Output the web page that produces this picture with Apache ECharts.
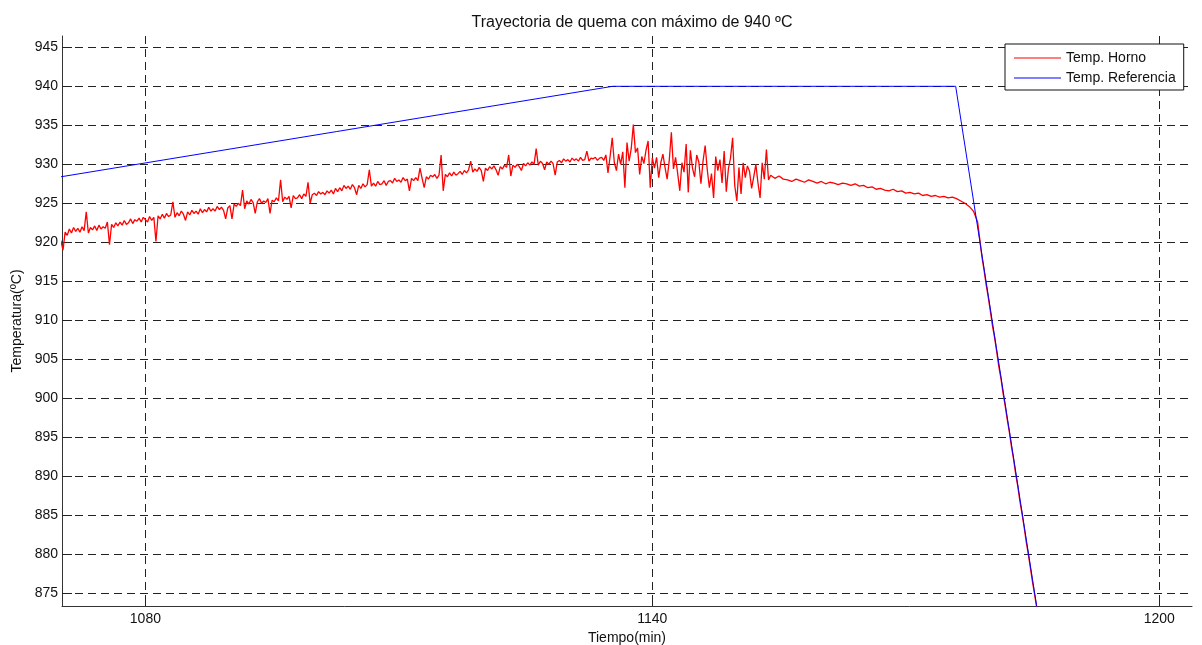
<!DOCTYPE html>
<html>
<head>
<meta charset="utf-8">
<title>Trayectoria de quema</title>
<script src="https://cdn.jsdelivr.net/npm/echarts@6/dist/echarts.min.js"></script>
<style>
  html, body { margin: 0; padding: 0; background: #fff; }
  #chart { width: 1202px; height: 645px; }
</style>
</head>
<body>
<div id="chart"></div>
<script>
// Tick values shown on each axis
const xTicks = [1080, 1140, 1200];
const yTicks = [875, 880, 885, 890, 895, 900, 905, 910, 915, 920, 925, 930, 935, 940, 945];

// Reference trajectory (min, ºC)
const refTime = [1070, 1135.3, 1175.9, 1186.2];
const refTemp = [928.4, 940, 940, 868.4];

// Furnace temperature, sampled every 0.25 min from 1070 to 1153.75
const hornoAStart = 1070, hornoAStep = 0.25;
const hornoA = [
  920.2, 919.0, 921.3, 920.9,
  921.7, 921.2, 921.9, 921.4,
  921.8, 921.3, 922.0, 921.5,
  923.9, 921.2, 921.9, 921.6,
  922.1, 921.5, 922.2, 921.7,
  922.0, 921.8, 922.6, 919.7,
  922.3, 921.9, 922.5, 922.1,
  922.6, 922.2, 922.8, 922.3,
  922.5, 923.0, 922.4, 922.9,
  922.7, 923.1, 922.6, 923.2,
  922.9, 922.6, 923.3, 922.8,
  923.2, 920.1, 923.4, 923.0,
  923.6, 923.1, 923.7, 923.3,
  923.5, 925.2, 923.2, 923.8,
  923.4, 924.0, 923.6, 922.8,
  923.9, 923.5, 924.1, 923.7,
  924.0, 923.6, 924.3, 923.8,
  924.2, 923.9, 924.5, 924.0,
  924.3, 924.0, 924.6, 924.2,
  924.5, 924.1, 923.0, 924.4,
  924.7, 923.0, 924.9, 924.6,
  925.0, 924.7, 926.7, 924.3,
  925.3, 924.9, 925.5, 925.1,
  923.7, 925.2, 925.6, 925.0,
  925.3, 925.1, 925.6, 923.7,
  925.4, 925.2, 925.7, 925.3,
  928.0, 925.2, 925.8, 925.5,
  925.9, 924.4, 926.0, 925.6,
  925.7, 926.1, 925.6, 926.2,
  925.9, 927.7, 925.0, 926.1,
  926.3, 926.0, 926.5, 926.2,
  926.4, 926.1, 926.6, 926.3,
  926.7, 926.2, 926.9, 926.5,
  927.0, 926.6, 927.3, 926.9,
  927.2, 926.8, 927.4, 927.0,
  926.1, 927.3, 926.9, 927.5,
  927.1, 927.4, 929.3, 927.2,
  927.6, 927.2, 927.8, 927.4,
  927.5, 927.9, 927.3, 927.8,
  927.9, 927.6, 928.2, 927.8,
  928.0, 927.7, 928.3, 927.9,
  928.1, 926.6, 928.2, 927.9,
  928.3, 927.9, 929.5, 928.2,
  927.0, 928.4, 928.1, 928.6,
  928.4, 928.7, 928.2, 928.6,
  931.2, 926.6, 928.7, 928.4,
  928.9, 928.5, 929.0, 928.6,
  928.8, 929.1, 928.7, 929.2,
  928.9, 929.3, 930.4, 929.0,
  929.4, 929.1, 929.6, 929.2,
  927.8, 929.5, 929.2, 929.7,
  929.4, 929.8, 929.3, 928.6,
  929.7, 929.4, 929.9, 929.6,
  931.2, 928.5, 929.9, 929.6,
  930.0, 929.7, 929.2, 930.1,
  929.8, 930.2, 929.9, 930.3,
  930.0, 932.0, 929.9, 930.4,
  930.1, 929.3, 930.3, 930.0,
  930.4, 930.1, 928.6, 930.3,
  930.5, 930.2, 930.7, 930.4,
  930.6, 930.3, 930.8, 930.5,
  930.7, 930.4, 930.9, 930.5,
  930.6, 931.7, 930.4, 930.8,
  930.7, 930.9, 930.5, 930.8,
  930.9, 930.5, 931.2, 928.9,
  931.0, 933.4, 930.2, 929.2,
  931.3, 930.0, 931.6, 927.0,
  932.8, 930.4, 932.0, 935.1,
  931.5, 932.1, 928.7, 931.0,
  930.1, 931.8, 933.0, 927.0,
  930.8, 929.5, 930.9, 928.3,
  930.2, 931.3, 929.6, 928.1,
  930.5, 934.1, 929.4, 930.9,
  928.8, 926.6, 930.2, 929.0,
  932.6, 926.4, 931.8, 929.5,
  928.4, 931.2, 930.3, 927.5,
  930.4, 932.4, 929.3, 927.0,
  928.8, 925.7, 931.0, 929.2,
  930.6, 927.6, 931.7, 926.5,
  929.4, 930.8, 933.4, 927.3,
  925.3, 929.6, 926.2, 930.2,
  928.3, 929.8, 929.1, 926.9,
  928.4, 930.0, 927.6, 925.7,
  930.2, 928.1, 931.9, 928.0
];

// Furnace temperature, every 0.5 min from 1154 to 1178.5
const hornoBStart = 1154, hornoBStep = 0.5;
const hornoB = [
  928.6, 928.2, 928.5, 928.1, 928.0, 927.8, 928.1, 927.9, 927.7, 928.0,
  927.8, 927.6, 927.8, 927.5, 927.7, 927.6, 927.4, 927.6, 927.5, 927.3,
  927.5, 927.2, 927.3, 927.0, 927.1, 926.8, 926.9, 926.7, 926.6, 926.8,
  926.5, 926.6, 926.3, 926.4, 926.2, 926.3, 926.0, 926.1, 925.9, 926.0,
  925.8, 925.9, 925.7, 925.8, 925.6, 925.3, 925.0, 924.6, 924.0, 922.6
];

// Furnace temperature during the cooling ramp, every 0.25 min from 1178.75
const hornoCStart = 1178.75, hornoCStep = 0.25;
const hornoC = [
  920.4, 918.2, 916.5, 914.6, 913.0, 911.2, 909.3, 907.8, 906.0, 904.1,
  902.6, 900.7, 899.1, 897.3, 895.7, 893.8, 892.2, 890.3, 888.7, 886.8,
  885.2, 883.5, 881.6, 880.0, 878.2, 876.4, 874.8, 873.1, 871.3
];

function pairs(start, step, values) {
  return values.map((v, i) => [start + i * step, v]);
}

const hornoData = []
  .concat(pairs(hornoAStart, hornoAStep, hornoA))
  .concat(pairs(hornoBStart, hornoBStep, hornoB))
  .concat(pairs(hornoCStart, hornoCStep, hornoC));
const refData = refTime.map((t, i) => [t, refTemp[i]]);

const FONT = 'Liberation Sans, Arial, sans-serif';
const gridDash = { color: '#222', width: 1, type: [8, 5] };

const chart = echarts.init(document.getElementById('chart'), null, { renderer: 'canvas' });
chart.setOption({
  animation: false,
  backgroundColor: '#fff',
  textStyle: { fontFamily: FONT },
  title: {
    text: 'Trayectoria de quema con máximo de 940 ºC',
    left: 627,
    top: 10,
    textAlign: 'center',
    textStyle: { fontFamily: FONT, fontSize: 16, fontWeight: 'normal', color: '#111' }
  },
  grid: { left: 62, right: 10, top: 36, bottom: 39, containLabel: false, outerBoundsMode: 'none' },
  legend: {
    orient: 'vertical',
    left: 1005,
    top: 44,
    padding: [7, 8, 5, 9],
    icon: 'rect',
    itemWidth: 47,
    itemHeight: 1.2,
    itemGap: 6,
    backgroundColor: '#fff',
    borderColor: '#111',
    borderWidth: 1,
    borderRadius: 0,
    textStyle: { fontFamily: FONT, fontSize: 14, color: '#111' },
    data: ['Temp. Horno', 'Temp. Referencia']
  },
  xAxis: {
    type: 'value',
    min: 1070.13,
    max: 1203.87,
    name: 'Tiempo(min)',
    nameLocation: 'middle',
    nameGap: 20,
    nameTextStyle: { fontFamily: FONT, fontSize: 14, color: '#111' },
    axisLine: { show: true, lineStyle: { color: '#333', width: 1 } },
    axisTick: { show: true, inside: true, length: 10, customValues: xTicks, lineStyle: { color: '#222' } },
    axisLabel: {
      customValues: xTicks, margin: 6, fontFamily: FONT, fontSize: 14, color: '#111',
      formatter: v => String(v)
    },
    splitLine: { show: true, lineStyle: gridDash }
  },
  yAxis: {
    type: 'value',
    min: 873.37,
    max: 946.45,
    name: 'Temperatura(ºC)',
    nameLocation: 'middle',
    nameGap: 33,
    nameRotate: 90,
    nameTextStyle: { fontFamily: FONT, fontSize: 14, color: '#111' },
    axisLine: { show: true, lineStyle: { color: '#333', width: 1 } },
    axisTick: { show: true, inside: true, length: 10, customValues: yTicks, lineStyle: { color: '#222' } },
    axisLabel: {
      customValues: yTicks, margin: 4, fontFamily: FONT, fontSize: 14, color: '#111',
      formatter: v => String(v)
    },
    splitLine: { show: true, lineStyle: gridDash }
  },
  series: [
    {
      name: 'Temp. Horno',
      type: 'line',
      data: hornoData,
      symbol: 'none',
      sampling: null,
      clip: true,
      lineStyle: { color: '#ff0000', width: 1.3 },
      itemStyle: { color: '#ff0000' }
    },
    {
      name: 'Temp. Referencia',
      type: 'line',
      data: refData,
      symbol: 'none',
      clip: true,
      lineStyle: { color: '#0000ff', width: 1 },
      itemStyle: { color: '#0000ff' }
    }
  ]
});
</script>
</body>
</html>
